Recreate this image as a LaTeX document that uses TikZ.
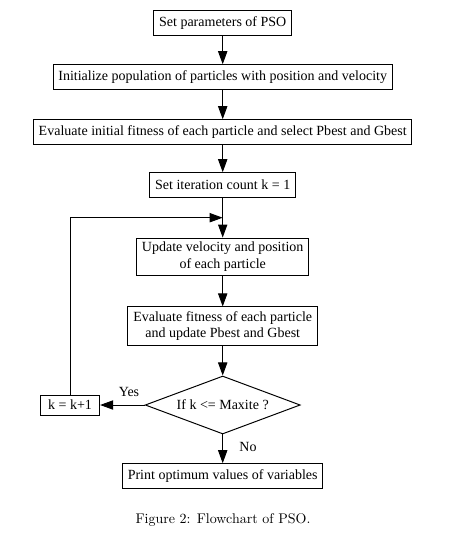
\documentclass[tikz,border=0pt]{standalone}
\usepackage{fontspec}
\newfontfamily\timesfont{Liberation Serif}
\usepackage{tikz}
\usetikzlibrary{arrows.meta}
\usetikzlibrary{shapes.geometric}
\tikzstyle{box} = [draw, rectangle, font=\timesfont, align=center,
    inner xsep=3.8pt, inner ysep=3pt, minimum height=17.5pt]
\tikzstyle{decision} = [draw, diamond, font=\timesfont, aspect=2.67,
    inner sep=0pt, minimum width=110.7pt, minimum height=41.4pt]
\tikzset{>={Triangle[length=9.3pt,width=6.6pt]}}

\begin{document}
\begin{tikzpicture}[line width=0.7pt]
\begin{scope}[x=0.714pt, y=-0.714pt]
    \useasboundingbox (0,0) rectangle (450,539);
    %boxes
    \node[box] (param) at (222.7, 23) {Set parameters of PSO};
    \node[box] (init) at (222.7, 77) {Initialize population of particles with position and velocity};
    \node[box] (evalinit) at (222.7, 132) {Evaluate initial fitness of each particle and select Pbest and Gbest};
    \node[box] (count) at (222.7, 185) {Set iteration count k = 1};
    \coordinate (join) at (222.7, 217.7);
    \node[box] (update) at (222.7, 257) {Update velocity and position\\of each particle};
    \node[box] (eval) at (222.7, 326) {Evaluate fitness of each particle\\and update Pbest and Gbest};
    \node[decision] (check) at (222.7, 405) {If k <= Maxite ?};
    \node[box, inner xsep=5.5pt, inner ysep=1pt, minimum height=14.3pt] (incr) at (70, 405) {k = k+1};
    \node[box] (print) at (222.7, 476) {Print optimum values of variables};
    %labels
    \node[font=\timesfont] (yes) at (129, 392) {Yes};
    \node[font=\timesfont] (no) at (248, 447) {No};
    \node (caption) at (223, 520) {Figure 2: Flowchart of PSO.};
    %lines
    \draw[->] (param) -- (init);
    \draw[->] (init) -- (evalinit);
    \draw[->] (evalinit) -- (count);
    \draw (count) -- (join);
    \draw[->] (join) -- (update);
    \draw[->] (update) -- (eval);
    \draw[->] (eval) -- (check);
    \draw[->] (check.west) -- (incr);
    \draw[->] (incr) |- (join);
    \draw[->] (check) -- (print);
\end{scope}
\end{tikzpicture}
\end{document}
